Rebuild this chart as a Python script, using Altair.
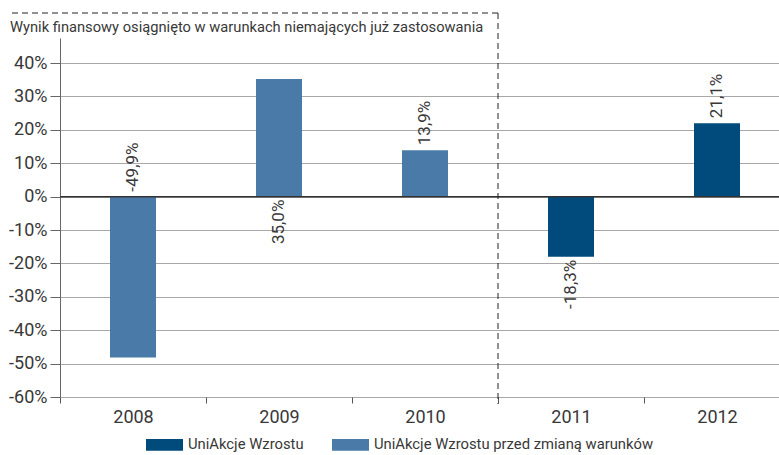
import altair as alt
import pandas as pd

years = ["2008", "2009", "2010", "2011", "2012"]
values = [-48.2, 35.2, 13.9, -18.0, 22.0]
labels = ["-49,9%", "35,0%", "13,9%", "-18,3%", "21,1%"]
label_anchor = [0.0, 0.0, 13.9, -18.0, 22.0]
label_up = [True, False, True, False, True]
series = ["UniAkcje Wzrostu przed zmianą warunków"] * 3 + ["UniAkcje Wzrostu"] * 2
series_names = ["UniAkcje Wzrostu", "UniAkcje Wzrostu przed zmianą warunków"]
series_colors = ["#004A7C", "#4A7BA8"]
y_ticks = [-60, -50, -40, -30, -20, -10, 0, 10, 20, 30, 40]
title_text = "Wynik finansowy osiągnięto w warunkach niemających już zastosowania"

df = pd.DataFrame({
    "year": years,
    "value": values,
    "label": labels,
    "anchor": label_anchor,
    "up": label_up,
    "series": series,
})

FONT = "Roboto"
TXT = "#383838"

xaxis = alt.Axis(
    title=None, tickBand="extent", domain=False, ticks=True, tickSize=6,
    tickColor="#555555", labelFontSize=18, labelColor=TXT, labelPadding=5,
    labelAngle=0, grid=False, labelFont=FONT,
)
xscale = alt.Scale(domain=years, range=[0, 730], paddingInner=0, paddingOuter=0)
yscale = alt.Scale(domain=[-60, 47.5], nice=False, zero=False)
yaxis = alt.Axis(
    values=y_ticks, labelExpr="datum.value + '%'", title=None, grid=True,
    gridColor="#A8A8A8", gridWidth=1, domainColor="#666666", tickColor="#666666",
    tickSize=10, labelFontSize=18, labelPadding=3, labelColor=TXT, labelFont=FONT,
    labelOverlap=False, tickCount=11,
)

base = alt.Chart(df)

bars = base.mark_bar(size=46).encode(
    x=alt.X("year:N", sort=years, scale=xscale, axis=xaxis),
    y=alt.Y("value:Q", scale=yscale, axis=yaxis),
    color=alt.Color(
        "series:N",
        scale=alt.Scale(domain=series_names, range=series_colors),
        legend=alt.Legend(
            orient="none", legendX=86, legendY=388, direction="horizontal", title=None,
            symbolType="M-1,-0.32H1V0.32H-1Z", symbolSize=1369, symbolStrokeWidth=0,
            symbolOpacity=1, labelFontSize=14.8, labelFont=FONT, labelColor=TXT,
            columnPadding=28, labelOffset=5, padding=0, labelLimit=500,
        ),
    ),
)

text_up = base.transform_filter("datum.up").mark_text(
    angle=270, align="left", baseline="middle", dx=5, fontSize=17, font=FONT, color=TXT
).encode(
    x=alt.X("year:N", sort=years, scale=xscale, axis=xaxis),
    y=alt.Y("anchor:Q", scale=yscale, axis=yaxis),
    text="label:N",
)

text_down = base.transform_filter("!datum.up").mark_text(
    angle=270, align="right", baseline="middle", dx=-3, fontSize=17, font=FONT, color=TXT
).encode(
    x=alt.X("year:N", sort=years, scale=xscale, axis=xaxis),
    y=alt.Y("anchor:Q", scale=yscale, axis=yaxis),
    text="label:N",
)

one = alt.Chart(pd.DataFrame({"a": [0]}))
zero_rule = one.mark_rule(color="#333333", strokeWidth=1.5).encode(
    y=alt.YDatum(0, type="quantitative", scale=yscale, axis=yaxis)
)

dash_h = one.mark_rule(color="#222222", strokeDash=[6, 4], strokeWidth=1).encode(
    x=alt.value(-48), x2=alt.value(438), y=alt.value(-25)
)
dash_v = one.mark_rule(color="#222222", strokeDash=[6, 4], strokeWidth=1).encode(
    x=alt.value(438), y=alt.value(-25), y2=alt.value(366)
)
title = one.mark_text(
    align="left", baseline="alphabetic", fontSize=14.7, font=FONT, color=TXT
).encode(x=alt.value(-50), y=alt.value(-6), text=alt.value(title_text))

chart = alt.layer(bars, zero_rule, text_up, text_down, dash_h, dash_v, title).properties(
    width=719, height=359,
    autosize=alt.AutoSizeParams(type="none"),
    padding={"left": 60, "top": 38, "right": 0, "bottom": 58},
    background="white",
).configure_view(stroke=None)

chart.save("out.html", embed_options={"renderer": "svg", "actions": False})
